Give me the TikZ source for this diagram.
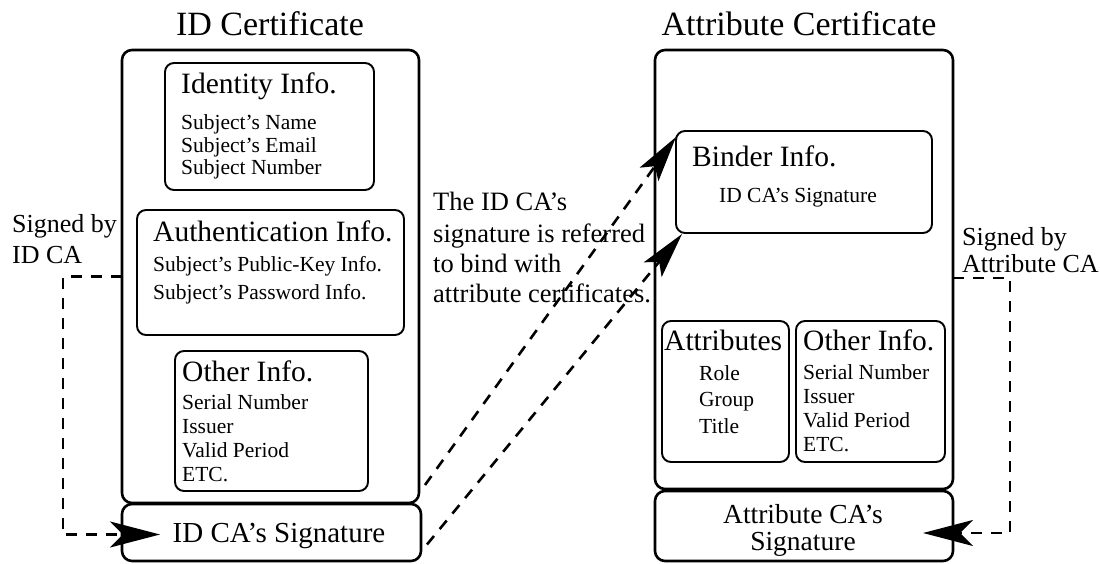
\documentclass[tikz,border=0pt]{standalone}
\usepackage{fontspec}
\setmainfont{Liberation Serif}
\usetikzlibrary{arrows.meta,calc}
\tikzset{
  outerbox/.style={draw, line width=2.6pt, rounded corners=10pt, inner sep=0pt, outer sep=0pt},
  innerbox/.style={draw, line width=1.9pt, rounded corners=9pt, inner sep=0pt, outer sep=0pt},
  titletxt/.style={anchor=base, inner sep=0pt, font=\fontsize{34}{38}\selectfont},
  subtxt/.style={anchor=base west, inner sep=0pt, font=\fontsize{29.5}{32}\selectfont},
  itemtxt/.style={anchor=base west, inner sep=0pt, font=\fontsize{21.5}{24}\selectfont},
  sigtxt/.style={anchor=base, inner sep=0pt, font=\fontsize{29}{32}\selectfont},
  sigtwo/.style={anchor=base, inner sep=0pt, font=\fontsize{27.5}{30}\selectfont},
  notetxt/.style={anchor=base west, inner sep=0pt, font=\fontsize{26.5}{30}\selectfont},
  sidetxt/.style={anchor=base west, inner sep=0pt, font=\fontsize{26}{30}\selectfont},
  dashline/.style={line width=2.6pt, dash pattern=on 11pt off 9pt},
  bigtip/.style={-{Stealth[length=50pt,width=26pt,inset=13pt]}},
  midtip/.style={-{Stealth[length=46pt,width=23pt,inset=10pt]}}
}
\begin{document}
\begin{tikzpicture}[x=1pt,y=-1pt]
\useasboundingbox (0,0) rectangle (1100,564);
\fill[white] (0,0) rectangle (1100,564);

% ---------------- ID certificate ----------------
\node[titletxt] (idtitle) at (270,36) {ID Certificate};
\node[outerbox, minimum width=297pt, minimum height=453pt] (idcert) at (270.5,276.5) {};
\node[outerbox, minimum width=299pt, minimum height=57pt] (idsig) at (271.5,532.5) {};
\node[sigtxt] (idsigtxt) at (279,542) {ID CA's Signature};

\node[innerbox, minimum width=209pt, minimum height=127pt] (identity) at (269.5,126.5) {};
\node[subtxt] (identt) at (181,94) {Identity Info.};
\node[itemtxt] (idn1) at (181,130) {Subject's Name};
\node[itemtxt] (idn2) at (181,152.5) {Subject's Email};
\node[itemtxt] (idn3) at (181,175) {Subject Number};

\node[innerbox, minimum width=267pt, minimum height=125pt] (auth) at (270.5,272.5) {};
\node[subtxt] (autht) at (153,241) {Authentication Info.};
\node[itemtxt] (au1) at (153,271) {Subject's Public-Key Info.};
\node[itemtxt] (au2) at (153,299) {Subject's Password Info.};

\node[innerbox, minimum width=193pt, minimum height=140pt] (idother) at (271.5,421) {};
\node[subtxt] (idothert) at (182,381) {Other Info.};
\node[itemtxt] (io1) at (182,409) {Serial Number};
\node[itemtxt] (io2) at (182,433) {Issuer};
\node[itemtxt] (io3) at (182,457) {Valid Period};
\node[itemtxt] (io4) at (182,481) {ETC.};

\node[sidetxt] (lsign1) at (12,233) {Signed by};
\node[sidetxt] (lsign2) at (12,263) {ID CA};

% ---------------- middle note ----------------
\node[notetxt] (m1) at (433,211) {The ID CA's};
\node[notetxt] (m2) at (433,242) {signature is referred};
\node[notetxt] (m3) at (433,272) {to bind with};
\node[notetxt] (m4) at (433,302) {attribute certificates.};

% ---------------- Attribute certificate ----------------
\node[titletxt] (attitle) at (799,36) {Attribute Certificate};
\node[outerbox, minimum width=298pt, minimum height=439pt] (attcert) at (804,269.5) {};
\node[outerbox, minimum width=298pt, minimum height=70pt] (attsig) at (804,526) {};
\node[sigtwo] (attsig1) at (803,523) {Attribute CA's};
\node[sigtwo] (attsig2) at (803,550) {Signature};

\node[innerbox, minimum width=256pt, minimum height=102pt] (binder) at (804,182) {};
\node[subtxt] (bindt) at (692,167) {Binder Info.};
\node[itemtxt, anchor=base] (bind1) at (798,203) {ID CA's Signature};

\node[innerbox, minimum width=127pt, minimum height=141pt] (attrs) at (725.5,391.5) {};
\node[subtxt] (attrst) at (664,350) {Attributes};
\node[itemtxt] (at1) at (699,380) {Role};
\node[itemtxt] (at2) at (699,406) {Group};
\node[itemtxt] (at3) at (699,433) {Title};

\node[innerbox, minimum width=149pt, minimum height=141pt] (atother) at (870.5,391.5) {};
\node[subtxt] (atothert) at (803,350) {Other Info.};
\node[itemtxt] (ao1) at (803,379) {Serial Number};
\node[itemtxt] (ao2) at (803,403) {Issuer};
\node[itemtxt] (ao3) at (803,427) {Valid Period};
\node[itemtxt] (ao4) at (803,451) {ETC.};

\node[sidetxt] (rsign1) at (962,245) {Signed by};
\node[sidetxt] (rsign2) at (962,272) {Attribute CA};

% ---------------- connectors ----------------
\coordinate (lsigtip) at ($(idsig.west)+(38,2)$);
\draw[dashline, bigtip] (idcert.west) -- ++(-59,0) |- (lsigtip);

\coordinate (rstart) at ($(attcert.east)+(0,8.5)$);
\coordinate (rsigtip) at ($(attsig.east)+(-30,7)$);
\draw[dashline, bigtip] (rstart) -- ++(57,0) |- (rsigtip);

\coordinate (b1s) at ($(idsig.north east)+(4,-19)$);
\coordinate (b1t) at ($(binder.north west)+(0,6)$);
\draw[dashline, midtip] (b1s) -- (b1t);

\coordinate (b2s) at ($(idsig.east)+(6,12)$);
\coordinate (b2t) at ($(binder.south west)+(6,1)$);
\draw[dashline, midtip] (b2s) -- (b2t);
\end{tikzpicture}
\end{document}
